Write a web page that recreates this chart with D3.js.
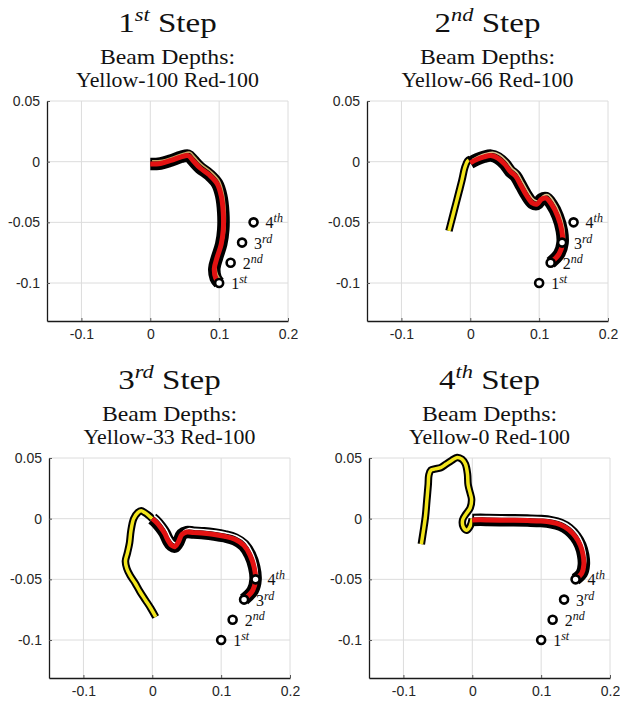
<!DOCTYPE html>
<html><head><meta charset="utf-8">
<script src="https://cdn.jsdelivr.net/npm/d3@7"></script>
<style>
html,body{margin:0;padding:0;background:#fff;}
svg{display:block;}
</style></head>
<body>
<svg id="chart" width="620" height="706"></svg>
<script>
// ---------------- data ----------------
const stepNumbers = ["1", "2", "3", "4"];
const stepSuffixes = ["st", "nd", "rd", "th"];
const yellowDepths = [100, 66, 33, 0];
const redDepths = [100, 100, 100, 100];

const xDomain = [-0.15, 0.2];
const yDomain = [-0.1313, 0.05];
const xTicks = [-0.1, 0, 0.1, 0.2];
const xTickLabels = ["-0.1", "0", "0.1", "0.2"];
const yTicks = [-0.1, -0.05, 0, 0.05];
const yTickLabels = ["-0.1", "-0.05", "0", "0.05"];

// target points (same in every panel)
const targetX = [0.1, 0.1167, 0.1333, 0.15];
const targetY = [-0.1, -0.0833, -0.0667, -0.05];
const targetNums = ["1", "2", "3", "4"];
const targetSups = ["st", "nd", "rd", "th"];

// red beam centre-lines
const red1 = [[0,-0.002],[0.015,-0.0015],[0.03,0.001],[0.045,0.004],[0.055,0.005],[0.062,0.001],[0.072,-0.005],[0.086,-0.011],[0.097,-0.018],[0.103,-0.028],[0.106,-0.042],[0.106,-0.056],[0.103,-0.068],[0.097,-0.079],[0.093,-0.088],[0.095,-0.096],[0.1,-0.1]];
const red2 = [[0,-0.001],[0.01,0.002],[0.02,0.004],[0.03,0.005],[0.04,0.003],[0.05,-0.002],[0.058,-0.008],[0.066,-0.012],[0.074,-0.02],[0.082,-0.028],[0.09,-0.034],[0.097,-0.035],[0.103,-0.031],[0.11,-0.03],[0.118,-0.035],[0.127,-0.045],[0.133,-0.057],[0.134,-0.067],[0.129,-0.076],[0.1167,-0.0833]];
const red3 = [[0,0],[0.006,-0.003],[0.012,-0.007],[0.018,-0.012],[0.023,-0.018],[0.028,-0.022],[0.033,-0.023],[0.038,-0.019],[0.043,-0.013],[0.05,-0.011],[0.06,-0.0115],[0.075,-0.012],[0.09,-0.013],[0.105,-0.0145],[0.12,-0.017],[0.133,-0.022],[0.142,-0.03],[0.148,-0.04],[0.15,-0.05],[0.146,-0.059],[0.1333,-0.0667]];
const red4 = [[0,-0.001],[0.02,-0.001],[0.04,-0.0012],[0.06,-0.0014],[0.08,-0.0016],[0.1,-0.002],[0.115,-0.003],[0.128,-0.005],[0.14,-0.009],[0.15,-0.015],[0.157,-0.022],[0.161,-0.03],[0.162,-0.038],[0.159,-0.045],[0.15,-0.05]];

// yellow beam centre-lines (hidden under red in step 1)
const yellow1 = [];
const yellow2 = [[-0.031,-0.057],[-0.026,-0.046],[-0.021,-0.035],[-0.016,-0.024],[-0.012,-0.015],[-0.008,-0.005],[-0.004,0.0005],[0,0.002]];
const yellow3 = [[0.005,-0.081],[-0.002,-0.074],[-0.01,-0.067],[-0.018,-0.06],[-0.025,-0.053],[-0.032,-0.047],[-0.037,-0.041],[-0.039,-0.035],[-0.036,-0.028],[-0.033,-0.02],[-0.031,-0.01],[-0.027,0.0],[-0.021,0.005],[-0.016,0.0065],[-0.011,0.005],[-0.006,0.003],[0,0]];
const yellow4 = [[-0.074,-0.021],[-0.071,-0.01],[-0.068,0.002],[-0.066,0.015],[-0.064,0.028],[-0.063,0.036],[-0.06,0.04],[-0.054,0.041],[-0.046,0.042],[-0.038,0.045],[-0.03,0.048],[-0.022,0.0505],[-0.015,0.049],[-0.01,0.045],[-0.007,0.037],[-0.006,0.028],[-0.003,0.021],[-0.001,0.016],[-0.003,0.009],[-0.009,0.004],[-0.014,-0.001],[-0.013,-0.007],[-0.008,-0.0095],[-0.003,-0.006],[0,0]];

const redBeams = [red1, red2, red3, red4];
const yellowBeams = [yellow1, yellow2, yellow3, yellow4];

// ---------------- layout / style ----------------
const panelPos = [{x:47,y:101},{x:367,y:101},{x:49,y:458},{x:369,y:458}];
const PW = 241, PH = 220;
const innerLineColor = ["#c7a463", "#d9c08a", "#ffffff", "#ffffff"];
const serif = "'Liberation Serif','Times New Roman',serif";
const sans = "'Liberation Sans',Arial,Helvetica,sans-serif";

const svg = d3.select("#chart");

function stretch(sel, f) {
  const L = sel.node().getComputedTextLength();
  sel.attr("textLength", L * f).attr("lengthAdjust", "spacingAndGlyphs");
}

panelPos.forEach((p, i) => {
  const g = svg.append("g").attr("transform", `translate(${p.x},${p.y})`);
  const x = d3.scaleLinear().domain(xDomain).range([0, PW]);
  const y = d3.scaleLinear().domain(yDomain).range([PH, 0]);

  // grid
  g.append("g").selectAll("line").data(xTicks).join("line")
    .attr("x1", d => x(d)).attr("x2", d => x(d)).attr("y1", 0).attr("y2", PH)
    .attr("stroke", "#dcdcdc").attr("stroke-width", 1);
  g.append("g").selectAll("line").data(yTicks).join("line")
    .attr("y1", d => y(d)).attr("y2", d => y(d)).attr("x1", 0).attr("x2", PW)
    .attr("stroke", "#dcdcdc").attr("stroke-width", 1);

  // axes
  const xAxis = d3.axisBottom(x).tickValues(xTicks)
    .tickFormat((d, k) => xTickLabels[k]).tickSizeInner(-3).tickSizeOuter(0).tickPadding(8);
  const yAxis = d3.axisLeft(y).tickValues(yTicks)
    .tickFormat((d, k) => yTickLabels[k]).tickSizeInner(-3).tickSizeOuter(0).tickPadding(7);
  const gx = g.append("g").attr("transform", `translate(0,${PH})`).call(xAxis);
  const gy = g.append("g").call(yAxis);
  [gx, gy].forEach(a => {
    a.select(".domain").attr("stroke", "#1a1a1a").attr("stroke-width", 1.3);
    a.selectAll(".tick line").attr("stroke", "#555");
    a.selectAll(".tick text").attr("font-family", sans).attr("font-size", 14).attr("fill", "#262626");
  });

  const line = d3.line().x(d => x(d[0])).y(d => y(d[1])).curve(d3.curveCatmullRom.alpha(0.5));

  // yellow beam
  const yb = yellowBeams[i];
  if (yb.length) {
    g.append("path").attr("d", line(yb)).attr("fill", "none").attr("stroke", "#000")
      .attr("stroke-width", 7.5).attr("stroke-linecap", "butt").attr("stroke-linejoin", "round");
    g.append("path").attr("d", line(yb)).attr("fill", "none").attr("stroke", "#f2e51c")
      .attr("stroke-width", 3.5).attr("stroke-linecap", "butt").attr("stroke-linejoin", "round");
  }

  // red beam
  const rb = redBeams[i];
  g.append("path").attr("d", line(rb)).attr("fill", "none").attr("stroke", "#000")
    .attr("stroke-width", 12.5).attr("stroke-linecap", "butt").attr("stroke-linejoin", "round");
  g.append("path").attr("d", line(rb)).attr("fill", "none").attr("stroke", innerLineColor[i])
    .attr("stroke-width", 1.6).attr("transform", "translate(1.8,-3.3)")
    .attr("stroke-linejoin", "round");
  g.append("path").attr("d", line(rb)).attr("fill", "none").attr("stroke", "#e31212")
    .attr("stroke-width", 5).attr("stroke-linecap", "butt").attr("stroke-linejoin", "round");

  // targets
  targetX.forEach((tx, k) => {
    g.append("circle").attr("cx", x(tx)).attr("cy", y(targetY[k])).attr("r", 4)
      .attr("fill", "#fff").attr("stroke", "#000").attr("stroke-width", 2.6);
    const t = g.append("text").attr("x", x(tx) + 12).attr("y", y(targetY[k]) + 6)
      .attr("font-family", serif).attr("font-size", 16).attr("fill", "#111");
    t.append("tspan").text(targetNums[k]);
    t.append("tspan").attr("dy", -6).attr("font-size", 12).attr("font-style", "italic").text(targetSups[k]);
  });

  // titles
  const cx = PW / 2;
  const tg = g.append("g").attr("transform", `translate(${cx},-69) scale(1.18,1)`);
  const tt = tg.append("text").attr("x", 0).attr("y", 0).attr("text-anchor", "middle")
    .attr("font-family", serif).attr("font-size", 28).attr("fill", "#111");
  tt.append("tspan").text(stepNumbers[i]);
  tt.append("tspan").attr("dy", -11).attr("font-size", 19).attr("font-style", "italic").text(stepSuffixes[i]);
  tt.append("tspan").attr("dy", 11).text("\u00A0Step");

  const s1 = g.append("text").attr("x", cx).attr("y", -37).attr("text-anchor", "middle")
    .attr("font-family", serif).attr("font-size", 21).attr("fill", "#111")
    .text("Beam Depths:");
  stretch(s1, 1.13);
  const s2 = g.append("text").attr("x", cx).attr("y", -14).attr("text-anchor", "middle")
    .attr("font-family", serif).attr("font-size", 21).attr("fill", "#111")
    .text(`Yellow-${yellowDepths[i]} Red-${redDepths[i]}`);
  stretch(s2, 1.04);
});
</script>
</body></html>
